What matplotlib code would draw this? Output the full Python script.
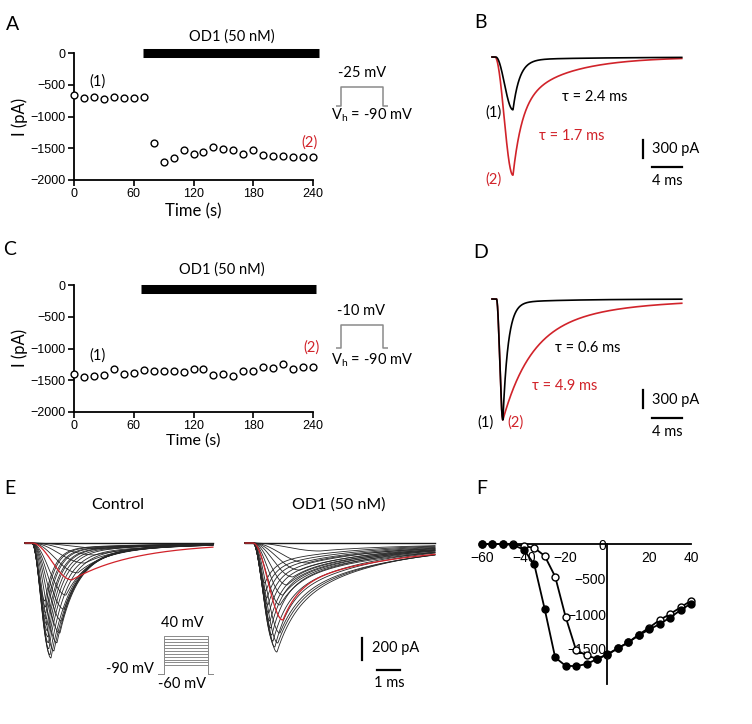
import numpy as np
import matplotlib
matplotlib.use('Agg')
import matplotlib.pyplot as plt

plt.rcParams['font.family'] = ['Lato', 'DejaVu Sans']
TICKFONT = 'Liberation Sans'
RED = '#d1232a'

# ---------------- data ----------------
time_s = [0, 10, 20, 30, 40, 50, 60, 70, 80, 90, 100, 110, 120, 130, 140, 150,
          160, 170, 180, 190, 200, 210, 220, 230, 240]
A_current = [-660, -714, -693, -725, -698, -704, -704, -700, -1418, -1714, -1656,
             -1524, -1593, -1561, -1487, -1519, -1524, -1598, -1534, -1603, -1619,
             -1619, -1635, -1635, -1630]
C_current = [-1395, -1447, -1437, -1421, -1326, -1405, -1384, -1332, -1353, -1353,
             -1353, -1368, -1316, -1326, -1410, -1400, -1431, -1353, -1347, -1295,
             -1300, -1237, -1316, -1289, -1295]
A_od1_window = [69, 246]
C_od1_window = [67, 243]
A_step_mV = -25
C_step_mV = -10
hold_mV = -90
time_ticks = [0, 60, 120, 180, 240]
current_ticks = [0, -500, -1000, -1500, -2000]

# B / D example traces: [black (1), red (2)]
B_onset = [0.5, 0.4]
B_peak = [2.8, 2.8]
B_amp = [880, 1970]
B_wfast = [0.95, 0.6]
B_taufast = [0.9, 1.2]
B_tauslow = [12.0, 6.5]
B_tau_text = ['τ = 2.4 ms', 'τ = 1.7 ms']

D_onset = [0.6, 0.6]
D_peak = [1.45, 1.45]
D_amp = [2017, 2017]
D_wfast = [0.97, 0.7]
D_taufast = [0.7, 3.6]
D_tauslow = [8.0, 11.0]
D_tau_text = ['τ = 0.6 ms', 'τ = 4.9 ms']

# E families of traces
E_onset = 0.3
ctrl_peak = [3.70, 3.04, 2.61, 2.30, 2.04, 1.78, 1.70, 1.61, 1.52, 1.39, 1.26, 1.13,
             1.09, 1.04, 1.02, 1.00, 0.98, 0.96, 0.93, 0.91, 0.89, 0.87]
ctrl_amp = [55, 110, 185, 275, 340, 480, 610, 720, 830, 920, 995, 1060, 1030, 975,
            920, 865, 810, 755, 700, 645, 590, 535]
ctrl_wfast = [0.0, 0.0, 0.3, 0.5, 0.0, 0.7, 0.8, 0.85, 0.85, 0.85, 0.85, 0.85, 0.88,
              0.88, 0.9, 0.9, 0.9, 0.9, 0.9, 0.9, 0.9, 0.9]
ctrl_taufast = [1.0, 1.0, 1.0, 1.0, 1.0, 0.9, 0.85, 0.8, 0.8, 0.8, 0.8, 0.8, 0.7, 0.65,
                0.6, 0.55, 0.5, 0.5, 0.45, 0.45, 0.4, 0.4]
ctrl_tauslow = [2.5, 2.5, 2.5, 2.8, 2.8, 3.0, 3.0, 3.5, 3.5, 3.5, 3.5, 3.5, 4, 4, 4, 4,
                4, 4, 4, 4, 4, 4]
ctrl_red = 4

od1_onset = 0.35
od1_peak = [3.26, 2.70, 2.39, 2.09, 1.83, 1.65, 1.52, 1.65, 1.52, 1.43, 1.39, 1.30,
            1.22, 1.17, 1.13, 1.09, 1.04, 1.00, 0.96, 0.91, 0.87]
od1_amp = [74, 184, 250, 313, 387, 480, 571, 710, 830, 922, 1005, 959, 904, 848, 784,
           719, 645, 571, 507, 442, 369]
od1_wfast = [0.1, 0.15, 0.2, 0.25, 0.3, 0.35, 0.4, 0.45, 0.4, 0.4, 0.4, 0.45, 0.45,
             0.5, 0.5, 0.5, 0.5, 0.5, 0.5, 0.5, 0.5]
od1_taufast = [1.0, 1.0, 1.0, 0.9, 0.9, 0.8, 0.8, 0.7, 0.8, 0.8, 0.8, 0.6, 0.6, 0.55,
               0.5, 0.5, 0.45, 0.45, 0.4, 0.4, 0.4]
od1_tauslow = [5, 5, 5, 5, 5, 5, 5, 5, 4.5, 4.2, 4, 4, 4, 4, 4, 4, 4, 4, 4, 4, 4]
od1_red = 7

protocol_mV = [-60, -50, -40, -30, -20, -10, 0, 10, 20, 30, 40]

# F: I-V
iv_v = [-60, -55, -50, -45, -40, -35, -30, -25, -20, -15, -10, -5, 0, 5, 10, 15, 20,
        25, 30, 35, 40]
iv_filled = [0, 0, 0, -15, -80, -290, -930, -1620, -1740, -1745, -1715, -1645, -1575,
             -1490, -1405, -1305, -1220, -1145, -1050, -945, -850]
iv_open = [0, 0, 0, 0, -30, -55, -170, -465, -1040, -1515, -1590, -1640, -1580, -1490,
           -1405, -1295, -1195, -1085, -1000, -905, -810]

# ---------------- figure ----------------
W, H = 752, 724
fig = plt.figure(figsize=(W / 100, H / 100), dpi=100)


def axpx(x0, y0, x1, y1):
    return fig.add_axes([x0 / W, 1 - y1 / H, (x1 - x0) / W, (y1 - y0) / H])


def txt(x, y, s, size=10.5, color='black', ha='center', va='center', **kw):
    fig.text(x / W, 1 - y / H, s, fontsize=size, color=color, ha=ha, va=va, **kw)


def wave(t, onset, peak, amp, wf, tf, ts):
    y = np.zeros_like(t)
    r = (t >= onset) & (t < peak)
    u = (t[r] - onset) / (peak - onset)
    y[r] = amp * np.sin(np.pi / 2 * u) ** 2
    d = t >= peak
    s = t[d] - peak
    y[d] = amp * (wf * np.exp(-s / tf) + (1 - wf) * np.exp(-s / ts))
    return -y


def trace_axes(box, t0_px, px_ms, base_px, px_pa):
    x0, y0, x1, y1 = box
    ax = axpx(*box)
    ax.set_xlim((x0 - t0_px) / px_ms, (x1 - t0_px) / px_ms)
    ax.set_ylim(-(y1 - base_px) / px_pa, (base_px - y0) / px_pa)
    ax.axis('off')
    return ax


def style_ticks(ax, size=9):
    for lab in ax.get_xticklabels() + ax.get_yticklabels():
        lab.set_fontfamily(TICKFONT)
        lab.set_fontsize(size)


def step_inset(box, step_mV, hold):
    ax = axpx(*box)
    ax.plot([-0.13, 0, 0, 1, 1, 1.13], [hold, hold, step_mV, step_mV, hold, hold],
            color='#8a8a8a', lw=1.1)
    ax.set_xlim(-0.13, 1.13)
    h = box[3] - box[1]
    ax.set_ylim(hold - 2 / 0.285, hold - 2 / 0.285 + h / 0.285)
    ax.axis('off')


def timecourse(y_top, y_bot, cur, window, bar_y):
    ax = axpx(74, y_top, 313, y_bot)
    ax.plot(time_s, cur, 'o', mfc='white', mec='black', ms=4.9, mew=1.0,
            clip_on=False, zorder=3)
    ax.plot(window, [bar_y, bar_y], color='black', lw=6.5, solid_capstyle='butt',
            clip_on=False)
    ax.set_xlim(0, 240)
    ax.set_ylim(-2000, 0)
    ax.set_xticks(time_ticks)
    ax.set_yticks(current_ticks)
    for s in ['top', 'right']:
        ax.spines[s].set_visible(False)
    for s in ['left', 'bottom']:
        ax.spines[s].set_linewidth(1.3)
    ax.tick_params(length=4, width=1.2, pad=2)
    style_ticks(ax, 9)
    return ax


# ---- Panel A ----
timecourse(53, 180, A_current, A_od1_window, 0)
txt(232, 37, 'OD1 (50 nM)', 10.5)
txt(98, 82, '(1)')
txt(310, 143, '(2)', color=RED)
txt(193, 211, 'Time (s)', 12)
txt(20, 117, 'I (pA)', 12, rotation=90)
step_inset((336, 80, 388, 108), A_step_mV, hold_mV)
txt(362, 73, '-25 mV')
txt(372, 115, r'V$_\mathregular{h}$ = -90 mV')

# ---- Panel C ----
timecourse(285, 412, C_current, C_od1_window, -60)
txt(222, 270, 'OD1 (50 nM)')
txt(98, 356, '(1)')
txt(311, 348, '(2)', color=RED)
txt(193, 441, 'Time (s)', 11.5)
txt(20, 348, 'I (pA)', 12, rotation=90)
step_inset((336, 316, 388, 350), C_step_mV, hold_mV)
txt(361, 311, '-10 mV')
txt(372, 360, r'V$_\mathregular{h}$ = -90 mV')

# ---- Panel B & D traces ----
SCALE_PA = 300
SCALE_MS = 4
PX_MS = 7.5
PX_PA = 0.06
tr_t = np.linspace(0, 25.3, 1200)


def example_panel(box, base_px, onset, peak, amp, wf, tf, ts, vbar_top_px, hbar_px):
    ax = trace_axes(box, 492, PX_MS, base_px, PX_PA)
    for i, c in [(1, RED), (0, 'black')]:
        ax.plot(tr_t, wave(tr_t, onset[i], peak[i], amp[i], wf[i], tf[i], ts[i]),
                color=c, lw=1.2)
    xv = (643 - 492) / PX_MS
    ytop = -(vbar_top_px - base_px) / PX_PA
    ax.plot([xv, xv], [ytop, ytop - SCALE_PA], color='black', lw=1.6, clip_on=False)
    xh = (652 - 492) / PX_MS
    yh = -(hbar_px - base_px) / PX_PA
    ax.plot([xh, xh + SCALE_MS], [yh, yh], color='black', lw=1.6, clip_on=False)
    return ax


example_panel((480, 40, 700, 200), 57, B_onset, B_peak, B_amp, B_wfast, B_taufast,
              B_tauslow, 140, 167)
txt(595, 97, B_tau_text[0])
txt(572, 136, B_tau_text[1], color=RED)
txt(493, 113, '(1)')
txt(493, 180, '(2)', color=RED)
txt(652, 149, '300 pA', ha='left')
txt(667, 181, '4 ms')

example_panel((480, 280, 700, 440), 299, D_onset, D_peak, D_amp, D_wfast, D_taufast,
              D_tauslow, 390, 418)
txt(588, 348, D_tau_text[0])
txt(565, 386, D_tau_text[1], color=RED)
txt(485, 423, '(1)')
txt(516, 423, '(2)', color=RED)
txt(652, 400, '300 pA', ha='left')
txt(667, 432, '4 ms')

# ---- Panel E ----
E_PX_MS = 23
E_PX_PA = 21.7 / 200
ctrl_t = np.linspace(0, 8.17, 800)
od1_t = np.linspace(0, 8.26, 800)

axE1 = trace_axes((20, 525, 225, 690), 25, E_PX_MS, 543, E_PX_PA)
axE1.plot(ctrl_t, np.zeros_like(ctrl_t), color='#1a1a1a', lw=1.0)
for i in range(len(ctrl_amp)):
    if i == ctrl_red:
        continue
    axE1.plot(ctrl_t, wave(ctrl_t, E_onset, ctrl_peak[i], ctrl_amp[i], ctrl_wfast[i],
                           ctrl_taufast[i], ctrl_tauslow[i]), color='#262626', lw=0.6)
i = ctrl_red
axE1.plot(ctrl_t, wave(ctrl_t, E_onset, ctrl_peak[i], ctrl_amp[i], ctrl_wfast[i],
                       ctrl_taufast[i], ctrl_tauslow[i]), color=RED, lw=0.9, zorder=5)

axE2 = trace_axes((240, 525, 445, 690), 245, E_PX_MS, 543, E_PX_PA)
axE2.plot(od1_t, np.zeros_like(od1_t), color='#1a1a1a', lw=1.0)
for i in range(len(od1_amp)):
    if i == od1_red:
        continue
    axE2.plot(od1_t, wave(od1_t, od1_onset, od1_peak[i], od1_amp[i], od1_wfast[i],
                          od1_taufast[i], od1_tauslow[i]), color='#262626', lw=0.6)
i = od1_red
axE2.plot(od1_t, wave(od1_t, od1_onset, od1_peak[i], od1_amp[i], od1_wfast[i],
                      od1_taufast[i], od1_tauslow[i]), color=RED, lw=0.9, zorder=5)

# scale bars E (200 pA, 1 ms)
xv = (362 - 245) / E_PX_MS
ytop = -(638 - 543) / E_PX_PA
axE2.plot([xv, xv], [ytop, ytop - 200], color='black', lw=1.6, clip_on=False)
xh = (377 - 245) / E_PX_MS
yh = -(670 - 543) / E_PX_PA
axE2.plot([xh, xh + 1], [yh, yh], color='black', lw=1.6, clip_on=False)
txt(372, 648, '200 pA', ha='left')
txt(389, 683, '1 ms')
txt(118, 505, 'Control', 11.5)
txt(339, 505, 'OD1 (50 nM)', 11.5)

# voltage protocol inset
axP = axpx(158, 630, 214, 680)
for v in protocol_mV:
    axP.plot([-0.13, 0, 0, 1, 1, 1.13], [hold_mV, hold_mV, v, v, hold_mV, hold_mV],
             color='#8a8a8a', lw=0.7)
axP.set_xlim(-0.13, 1.13)
axP.set_ylim(hold_mV - 6 / 0.29, hold_mV - 6 / 0.29 + 50 / 0.29)
axP.axis('off')
txt(182, 623, '40 mV')
txt(130, 669, '-90 mV')
txt(182, 684, '-60 mV')

# ---- Panel F ----
axF = axpx(470, 525, 700, 695)
px_mv = 209 / 100
px_pa = 35 / 500
axF.set_xlim(-60 - 12 / px_mv, 40 + 9 / px_mv)
axF.set_ylim(-(695 - 544) / px_pa, (544 - 525) / px_pa)
axF.plot(iv_v, iv_open, '-o', color='black', mfc='white', mec='black', ms=5.0, mew=1.0,
         lw=1.3, clip_on=False, zorder=4)
axF.plot(iv_v, iv_filled, '-o', color='black', mfc='black', mec='black', ms=5.0,
         lw=1.3, clip_on=False, zorder=5)
axF.spines['left'].set_position(('data', 0))
axF.spines['bottom'].set_position(('data', 0))
axF.spines['top'].set_visible(False)
axF.spines['right'].set_visible(False)
axF.spines['left'].set_bounds(-2000, 0)
axF.spines['bottom'].set_bounds(-60, 40)
for s in ['left', 'bottom']:
    axF.spines[s].set_linewidth(1.3)
axF.set_xticks([-60, -40, -20, 20, 40])
axF.set_yticks([0, -500, -1000, -1500])
axF.tick_params(axis='x', length=0, pad=5)
axF.tick_params(axis='y', length=0, pad=1)
style_ticks(axF, 10)

# panel letters
for lab, x, y in [('A', 13, 24), ('B', 480, 22), ('C', 10, 250), ('D', 481, 252),
                  ('E', 10, 488), ('F', 482, 488)]:
    txt(x, y, lab, 14)

fig.savefig('out.png', dpi=100)
